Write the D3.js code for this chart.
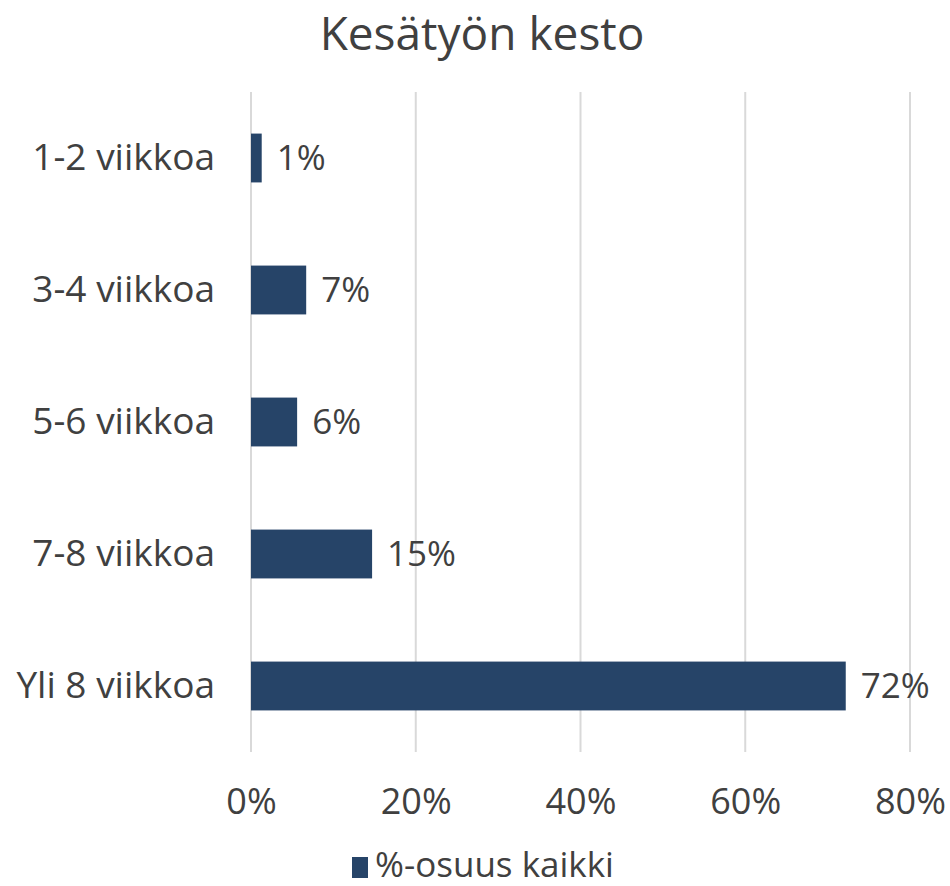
<!DOCTYPE html>
<html><head><meta charset="utf-8">
<script src="https://cdn.jsdelivr.net/npm/d3@7"></script>
<style>body{margin:0;background:#fff;} text{font-family:"Open Sans",sans-serif;fill:#404040;}</style>
</head><body>
<svg id="c" width="950" height="886"></svg>
<script>
const categories = ["1-2 viikkoa","3-4 viikkoa","5-6 viikkoa","7-8 viikkoa","Yli 8 viikkoa"];
const values = [1.3, 6.7, 5.6, 14.7, 72.2];
const valueLabels = ["1%","7%","6%","15%","72%"];
const ticks = [0,20,40,60,80];
const seriesName = "%-osuus kaikki";
const title = "Kesätyön kesto";
const color = "#264468";

const svg = d3.select("#c");
const x = d3.scaleLinear().domain([0,80]).range([251,910]);
const y = d3.scaleBand().domain(categories).range([92,752]).paddingInner(0.63).paddingOuter(0.315);

svg.append("text").attr("x",482).attr("y",50).attr("text-anchor","middle")
  .style("font-size","46px").text(title);

svg.append("g").selectAll("line").data(ticks).join("line")
  .attr("x1",d=>x(d)).attr("x2",d=>x(d)).attr("y1",92).attr("y2",752)
  .attr("stroke","#d9d9d9").attr("stroke-width",2);

const xa = svg.append("g").attr("transform","translate(0,752)")
  .call(d3.axisBottom(x).tickValues(ticks).tickFormat(d=>d+"%").tickSize(0).tickPadding(36));
xa.select(".domain").remove();
xa.selectAll("text").style("font-size","36px").style("font-family",'"Open Sans",sans-serif').attr("fill","#404040");

const ya = svg.append("g").attr("transform","translate(251,0)")
  .call(d3.axisLeft(y).tickSize(0).tickPadding(36));
ya.select(".domain").remove();
ya.selectAll("text").style("font-size","37px").style("font-family",'"Open Sans",sans-serif').attr("fill","#404040");

svg.append("g").selectAll("rect").data(values).join("rect")
  .attr("x",x(0)).attr("y",(d,i)=>y(categories[i])).attr("width",d=>x(d)-x(0)).attr("height",y.bandwidth())
  .attr("fill",color);

svg.append("g").selectAll("text").data(values).join("text")
  .attr("x",d=>x(d)+15).attr("y",(d,i)=>y(categories[i])+y.bandwidth()/2).attr("dy","0.35em")
  .style("font-size","35px").text((d,i)=>valueLabels[i]);

svg.append("rect").attr("x",352).attr("y",857).attr("width",16).attr("height",21).attr("fill",color);
svg.append("text").attr("x",375).attr("y",877).style("font-size","35px").text(seriesName);
</script>
</body></html>
